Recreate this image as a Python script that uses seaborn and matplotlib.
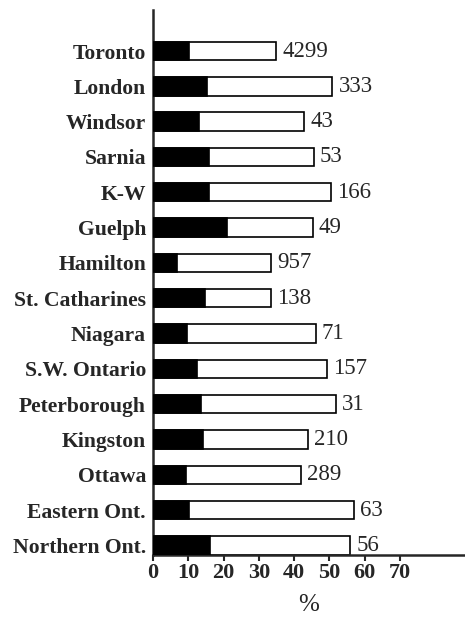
import numpy as np
import pandas as pd
import seaborn as sns
import matplotlib.pyplot as plt

# regions, top to bottom
regions = ['Toronto', 'London', 'Windsor', 'Sarnia', 'K-W', 'Guelph', 'Hamilton',
           'St. Catharines', 'Niagara', 'S.W. Ontario', 'Peterborough', 'Kingston',
           'Ottawa', 'Eastern Ont.', 'Northern Ont.']
# total bar length (%) and dark part (%)
total_pct = [34.8, 50.8, 42.8, 45.5, 50.5, 45.2, 33.4, 33.3, 46.1, 49.2, 51.8, 43.8, 41.9, 57.0, 55.8]
dark_pct = [10.3, 15.2, 13.0, 16.0, 16.0, 20.9, 6.7, 14.7, 9.7, 12.6, 13.5, 14.3, 9.3, 10.3, 16.1]
# number written at the end of each bar
counts = ['4299', '333', '43', '53', '166', '49', '957', '138', '71', '157', '31', '210', '289', '63', '56']

df = pd.DataFrame({'region': regions, 'total': total_pct, 'dark': dark_pct, 'n': counts})

sns.set_style('ticks')
plt.rcParams['font.family'] = ['Liberation Serif', 'DejaVu Serif']

fig = plt.figure(figsize=(4.65, 6.2), dpi=100)
ax = fig.add_axes([0.329, 0.1048, 0.671, 0.879])

sns.barplot(data=df, x='total', y='region', orient='h', color='white',
            edgecolor='black', linewidth=1.2, width=0.52, ax=ax, zorder=2)
sns.barplot(data=df, x='dark', y='region', orient='h', color='black',
            edgecolor='black', linewidth=1.2, width=0.52, ax=ax, zorder=3)

for i, (t, n) in enumerate(zip(df['total'], df['n'])):
    ax.annotate(n, (t, i), xytext=(4.5, 0), textcoords='offset points',
                va='center', ha='left', fontsize=16.5)

ax.set_xlim(0, 88.4)
ax.set_ylim(14.27, -1.16)
ax.set_xticks(range(0, 80, 10))
ax.tick_params(axis='x', labelsize=16, length=4, width=1.5, direction='out', pad=2)
ax.tick_params(axis='y', length=0, labelsize=15.6, pad=5)
for lab in ax.get_xticklabels() + ax.get_yticklabels():
    lab.set_fontweight('bold')

ax.set_xlabel('%', fontsize=18, labelpad=8)
ax.set_ylabel('')

sns.despine(ax=ax)
ax.spines['left'].set_linewidth(1.8)
ax.spines['bottom'].set_linewidth(1.8)

fig.savefig('out.png', dpi=100)
